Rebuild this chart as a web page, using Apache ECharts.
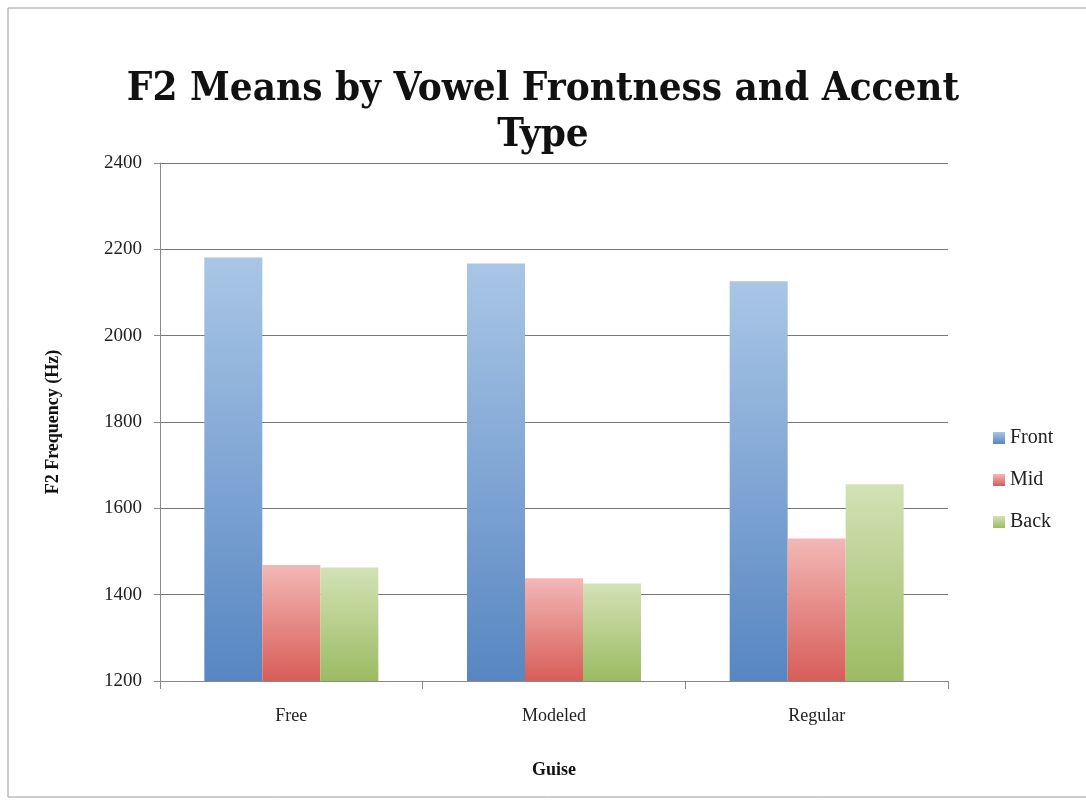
<!DOCTYPE html>
<html style="height: 100%">
<head>
<meta charset="utf-8">
<script src="https://cdn.jsdelivr.net/npm/echarts@6/dist/echarts.min.js"></script>
</head>
<body style="width: 100%; height: 100%; margin: 0; background: #fff">
<div id="main" style="width: 1086px; height: 805px;"></div>
<script>
// guise categories and the three vowel groups
var guises = ['Free', 'Modeled', 'Regular'];
var front = [2181, 2167, 2126];
var mid = [1469, 1438, 1530];
var back = [1463, 1426, 1656];
var yTicks = [1200, 1400, 1600, 1800, 2000, 2200, 2400];

var serif = '"Liberation Serif", "DejaVu Serif", serif';
var titleFont = '"DejaVu Serif Condensed", "Liberation Serif", serif';

function grad(top, bottom) {
  return new echarts.graphic.LinearGradient(0, 0, 0, 1, [
    { offset: 0, color: top },
    { offset: 1, color: bottom }
  ]);
}

var myChart = echarts.init(document.getElementById('main'));

var mkBar = function(name, data, top, bottom) {
  return {
    name: name,
    type: 'bar',
    data: data,
    barWidth: 58,
    barGap: '0%',
    itemStyle: { color: grad(top, bottom) }
  };
};

var option = {
  animation: false,
  backgroundColor: '#fff',
  title: {
    text: 'F2 Means by Vowel Frontness and Accent\nType',
    left: 'center',
    top: 62,
    textStyle: {
      fontFamily: titleFont,
      fontWeight: 'bold',
      fontSize: 40,
      lineHeight: 46,
      color: '#111'
    }
  },
  graphic: [{
    type: 'rect',
    shape: { x: 8, y: 8, width: 1090, height: 789 },
    style: { fill: 'none', stroke: '#999', lineWidth: 1 },
    silent: true
  }],
  legend: {
    orient: 'vertical',
    left: 988,
    top: 423,
    itemWidth: 12,
    itemHeight: 12,
    itemGap: 22,
    icon: 'rect',
    textStyle: { fontFamily: serif, fontSize: 20, color: '#222' },
    data: ['Front', 'Mid', 'Back']
  },
  grid: { left: 160, right: 138, top: 163, bottom: 124 },
  xAxis: {
    type: 'category',
    data: guises,
    name: 'Guise',
    nameLocation: 'middle',
    nameGap: 80,
    nameTextStyle: { fontFamily: serif, fontWeight: 'bold', fontSize: 18, color: '#111' },
    axisLine: { lineStyle: { color: '#888' } },
    axisTick: { show: true, length: 8, lineStyle: { color: '#888' } },
    axisLabel: { fontFamily: serif, fontSize: 18, color: '#222', margin: 26 }
  },
  yAxis: {
    type: 'value',
    min: yTicks[0],
    max: yTicks[yTicks.length - 1],
    interval: 200,
    name: 'F2 Frequency (Hz)',
    nameLocation: 'middle',
    nameGap: 98,
    nameTextStyle: { fontFamily: serif, fontWeight: 'bold', fontSize: 18, color: '#111' },
    axisLine: { show: true, lineStyle: { color: '#888' } },
    axisTick: { show: true, length: 6, lineStyle: { color: '#888' } },
    splitLine: { lineStyle: { color: '#777', width: 1 } },
    axisLabel: {
      fontFamily: serif, fontSize: 19, color: '#222', margin: 18,
      formatter: function(v) { return String(v); }
    }
  },
  series: [
    mkBar('Front', front, '#a9c6e6', '#5786c2'),
    mkBar('Mid', mid, '#f2b8b6', '#d85d58'),
    mkBar('Back', back, '#d3e2b6', '#9cbb63')
  ]
};

myChart.setOption(option);
</script>
</body>
</html>
